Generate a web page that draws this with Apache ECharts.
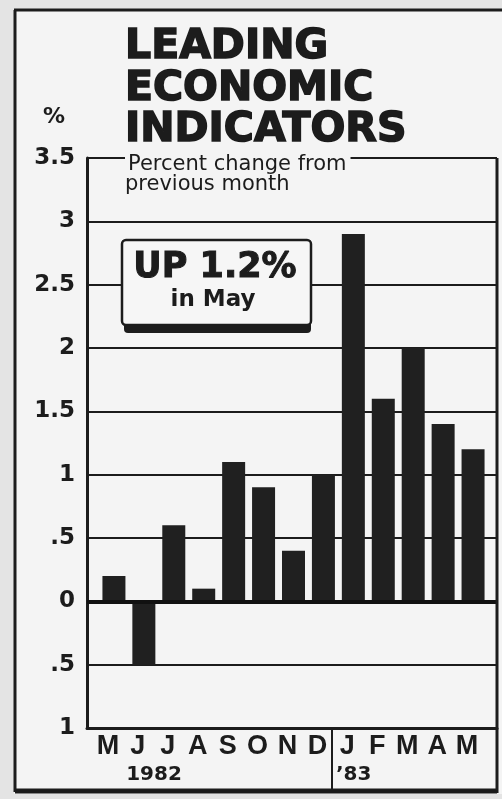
<!DOCTYPE html>
<html>
<head>
<meta charset="utf-8">
<script src="https://cdn.jsdelivr.net/npm/echarts@6/dist/echarts.min.js"></script>
<style>
html,body{margin:0;padding:0;background:#f4f4f4;}
#chart{width:502px;height:799px;}
</style>
</head>
<body>
<div id="chart"></div>
<script>
// ---- data ----
var months = ['M','J','J','A','S','O','N','D','J','F','M','A','M'];
var values = [0.2, -0.5, 0.6, 0.1, 1.1, 0.9, 0.4, 1.0, 2.9, 1.6, 2.0, 1.4, 1.2];
var yTicks = [-1, -0.5, 0, 0.5, 1, 1.5, 2, 2.5, 3, 3.5];
var yTickLabels = ['1', '.5', '0', '.5', '1', '1.5', '2', '2.5', '3', '3.5'];
var yearLabels = ['1982', '\u201983'];
var titleLines = ['LEADING', 'ECONOMIC', 'INDICATORS'];
var subtitleLines = ['Percent change from', 'previous month'];
var calloutLines = ['UP 1.2%', 'in May'];

var INK = '#1c1c1c';
var BG = '#f4f4f4';

var chart = echarts.init(document.getElementById('chart'), null, {renderer: 'canvas'});

var barData = values.map(function (v, i) { return [i, v]; });
var monthIdx = months.map(function (m, i) { return i; });

function txt(x, y, text, font, align, vAlign, extra) {
  var st = {
    text: text, x: 0, y: 0, fill: INK,
    font: font, textAlign: align, textVerticalAlign: vAlign
  };
  if (extra) { for (var k in extra) st[k] = extra[k]; }
  return { type: 'text', x: x, y: y, z: 100, silent: true, style: st };
}
function line(x1, y1, x2, y2, w) {
  return { type: 'line', z: 100, silent: true,
    shape: {x1: x1, y1: y1, x2: x2, y2: y2},
    style: {stroke: INK, lineWidth: w} };
}

var option = {
  animation: false,
  backgroundColor: BG,
  grid: { left: 87, right: 5, top: 158, bottom: 71, containLabel: false },
  xAxis: {
    type: 'value', min: -0.9, max: 12.8,
    splitLine: {show: false},
    axisTick: {show: false},
    axisLine: {show: true, onZero: false, lineStyle: {color: INK, width: 3}},
    axisLabel: {
      customValues: monthIdx,
      formatter: function (v) { return months[Math.round(v)] || ''; },
      color: INK, fontFamily: 'Liberation Sans', fontWeight: 'bold', fontSize: 27,
      margin: 5, padding: [0, 12, 0, 0]
    }
  },
  yAxis: {
    type: 'value', min: -1, max: 3.5, interval: 0.5,
    axisLine: {show: true, onZero: false, lineStyle: {color: INK, width: 3}},
    axisTick: {show: false},
    splitLine: {show: true, lineStyle: {color: INK, width: 2}},
    axisLabel: {
      formatter: function (v) {
        var i = yTicks.indexOf(Math.round(v * 2) / 2);
        return i >= 0 ? yTickLabels[i] : '';
      },
      color: INK, fontFamily: 'DejaVu Sans', fontWeight: 'bold', fontSize: 23, margin: 12
    }
  },
  series: [{
    type: 'bar',
    data: barData,
    barWidth: 23,
    itemStyle: {color: '#202020'},
    markLine: {
      silent: true, symbol: 'none', label: {show: false},
      lineStyle: {color: '#111', width: 4, type: 'solid'},
      data: [{yAxis: 0}]
    }
  }],
  graphic: { elements: [
    // outside margins
    { type: 'rect', z: 90, silent: true, shape: {x: 0, y: 0, width: 14, height: 799}, style: {fill: '#e4e4e4'} },
    { type: 'rect', z: 90, silent: true, shape: {x: 0, y: 0, width: 502, height: 9}, style: {fill: '#e4e4e4'} },
    { type: 'rect', z: 90, silent: true, shape: {x: 0, y: 794, width: 502, height: 5}, style: {fill: '#e4e4e4'} },
    // frame
    line(14, 10, 502, 10, 3),
    line(15, 10, 15, 792, 3),
    line(15, 791, 497, 791, 5),
    line(497, 158, 497, 793, 3),
    // separator between years
    line(332, 729, 332, 790, 2),
    // title
    txt(125, 47.5, titleLines[0], 'bold 41px "DejaVu Sans"', 'left', 'middle', {stroke: INK, lineWidth: 1.6}),
    txt(125, 89, titleLines[1], 'bold 41px "DejaVu Sans"', 'left', 'middle', {stroke: INK, lineWidth: 1.6}),
    txt(125, 130, titleLines[2], 'bold 41px "DejaVu Sans"', 'left', 'middle', {stroke: INK, lineWidth: 1.6}),
    // % unit
    txt(54, 117, '%', 'bold 22px "DejaVu Sans"', 'center', 'middle'),
    // subtitle
    txt(125, 165, subtitleLines[0], '21px "DejaVu Sans"', 'left', 'middle',
        {backgroundColor: BG, padding: [0, 4, 0, 3]}),
    txt(125, 185, subtitleLines[1], '21px "DejaVu Sans"', 'left', 'middle'),
    // callout box
    { type: 'rect', z: 100, silent: true, shape: {x: 124, y: 247, width: 187, height: 86, r: 4}, style: {fill: INK} },
    { type: 'rect', z: 101, silent: true, shape: {x: 122, y: 240, width: 189, height: 85, r: 4},
      style: {fill: '#f6f6f6', stroke: INK, lineWidth: 2.5} },
    { type: 'text', z: 102, x: 215, y: 268, silent: true,
      style: {text: calloutLines[0], fill: INK, stroke: INK, lineWidth: 1, font: 'bold 35px "DejaVu Sans"', textAlign: 'center', textVerticalAlign: 'middle'} },
    { type: 'text', z: 102, x: 213, y: 300, silent: true,
      style: {text: calloutLines[1], fill: INK, font: 'bold 23px "DejaVu Sans"', textAlign: 'center', textVerticalAlign: 'middle'} },
    // year labels
    txt(154, 775, yearLabels[0], 'bold 20px "DejaVu Sans"', 'center', 'middle'),
    txt(336, 775, yearLabels[1], 'bold 20px "DejaVu Sans"', 'left', 'middle')
  ]}
};
chart.setOption(option);
</script>
</body>
</html>
